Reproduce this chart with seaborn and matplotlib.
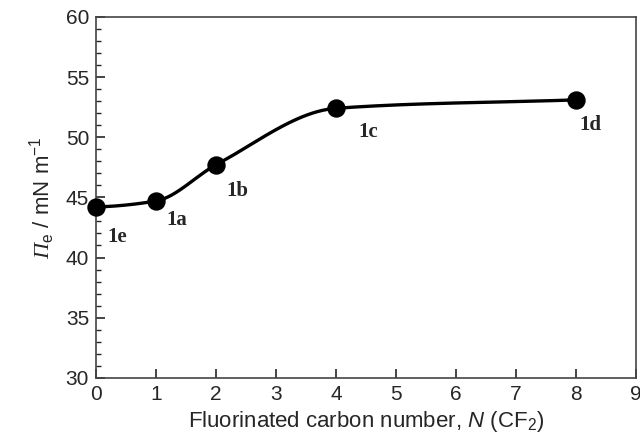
import numpy as np
import pandas as pd
import matplotlib
matplotlib.use('Agg')
import matplotlib.pyplot as plt
import seaborn as sns
from matplotlib.ticker import MultipleLocator

# data
carbon_number = [0, 1, 2, 4, 8]
pressure = [44.2, 44.7, 47.7, 52.4, 53.1]
compound = ['1e', '1a', '1b', '1c', '1d']

df = pd.DataFrame({'N': carbon_number, 'Pi': pressure, 'name': compound})


def pchip(x, y, xs):
    # monotone cubic (Fritsch-Carlson) for the smooth guide line
    x = np.asarray(x, float)
    y = np.asarray(y, float)
    h = np.diff(x)
    d = np.diff(y) / h
    m = np.zeros_like(y)
    for k in range(1, len(x) - 1):
        if d[k - 1] * d[k] > 0:
            w1 = 2 * h[k] + h[k - 1]
            w2 = h[k] + 2 * h[k - 1]
            m[k] = (w1 + w2) / (w1 / d[k - 1] + w2 / d[k])
    m[0] = d[0] * 0.3
    m[-1] = d[-1]
    out = np.empty_like(xs)
    for i, xv in enumerate(xs):
        k = min(np.searchsorted(x, xv, side='right') - 1, len(x) - 2)
        t = (xv - x[k]) / h[k]
        h00 = 2 * t**3 - 3 * t**2 + 1
        h10 = t**3 - 2 * t**2 + t
        h01 = -2 * t**3 + 3 * t**2
        h11 = t**3 - t**2
        out[i] = h00 * y[k] + h10 * h[k] * m[k] + h01 * y[k + 1] + h11 * h[k] * m[k + 1]
    return out


xs = np.linspace(0, 8, 400)
curve = pd.DataFrame({'N': xs, 'Pi': pchip(carbon_number, pressure, xs)})

sns.set_style('ticks')
plt.rcParams['font.family'] = ['Liberation Sans', 'DejaVu Sans']
plt.rcParams['mathtext.fontset'] = 'custom'
plt.rcParams['mathtext.it'] = 'Liberation Sans:italic'
plt.rcParams['mathtext.rm'] = 'Liberation Sans'
# serif italic for the Pi symbol
plt.rcParams['mathtext.sf'] = 'Liberation Serif:italic'

fig, ax = plt.subplots(figsize=(6.4, 4.43), dpi=100)
fig.subplots_adjust(left=0.15, right=0.994, top=0.962, bottom=0.147)

sns.lineplot(data=curve, x='N', y='Pi', color='black', linewidth=2.4, ax=ax)
sns.scatterplot(data=df, x='N', y='Pi', color='black', s=150, edgecolor='black',
                zorder=5, clip_on=False, ax=ax)

# label offsets (data units) from each point
offsets = {'1e': (0.35, -2.5), '1a': (0.35, -1.6), '1b': (0.35, -2.2),
           '1c': (0.53, -2.0), '1d': (0.23, -2.1)}
for n, p, name in zip(carbon_number, pressure, compound):
    dx, dy = offsets[name]
    ax.text(n + dx, p + dy, name, family='Liberation Serif', fontweight='bold',
            fontsize=15, ha='center', va='center')

ax.set_xlim(0, 9)
ax.set_ylim(30, 60)
ax.xaxis.set_major_locator(MultipleLocator(1))
ax.yaxis.set_major_locator(MultipleLocator(5))
ax.yaxis.set_minor_locator(MultipleLocator(1))
ax.tick_params(which='major', direction='in', length=6.5, width=1.2, labelsize=15, pad=5)
ax.tick_params(which='minor', direction='in', length=3.6, width=1.0)
ax.tick_params(axis='x', top=False)
ax.tick_params(axis='y', right=False, which='both')

for side in ['top', 'right', 'bottom', 'left']:
    ax.spines[side].set_visible(True)
    ax.spines[side].set_linewidth(1.2)
    ax.spines[side].set_color('#444444')

ax.set_xlabel(r'Fluorinated carbon number, $\mathit{N}$ (CF$_2$)', fontsize=16, labelpad=4)
ax.set_ylabel(r'$\mathsf{Π}$$_\mathrm{e}$ / mN m$^{-1}$', fontsize=16, labelpad=6)

fig.savefig('out.png', dpi=100)
